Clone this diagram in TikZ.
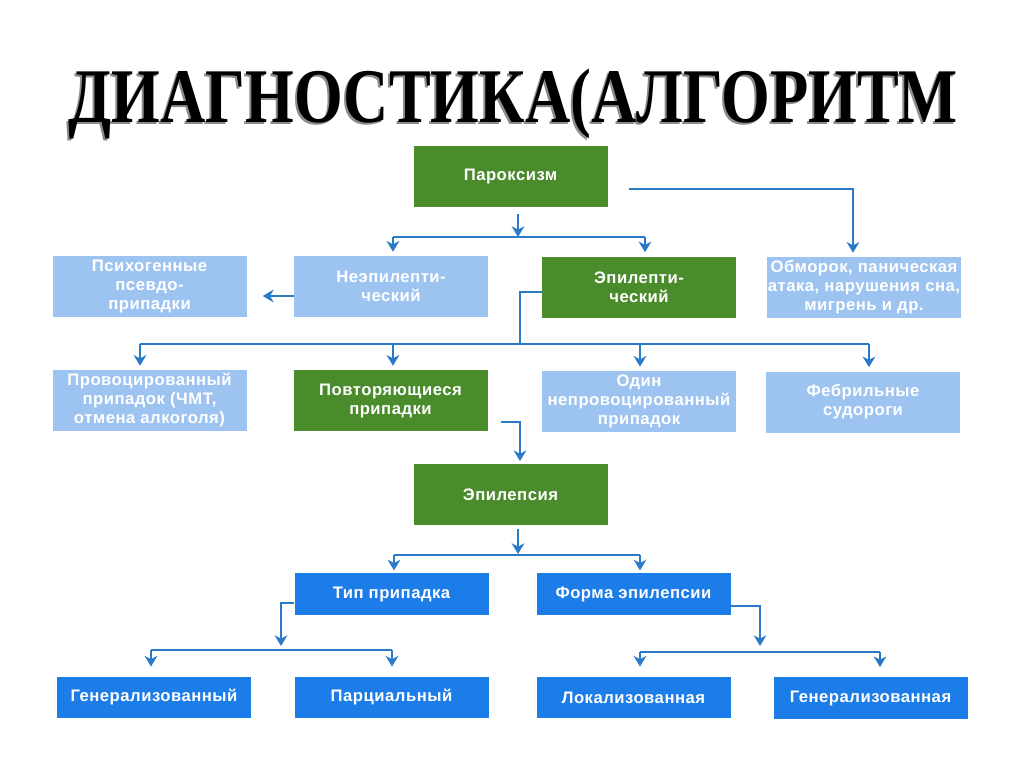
\documentclass[tikz,border=0pt]{standalone}
\usepackage{fontspec}
\setmainfont{Liberation Sans}
\newfontfamily\titlefont{Liberation Serif}
\newfontfamily\boxfont[LetterSpace=3]{Liberation Sans}
\usetikzlibrary{arrows.meta,calc}
\definecolor{grn}{RGB}{74,139,44}
\definecolor{lblue}{RGB}{157,195,241}
\definecolor{bblue}{RGB}{28,124,232}
\definecolor{arrc}{RGB}{42,122,200}
\newcommand\titletext{\scalebox{0.81}[1]{\titlefont\bfseries\fontsize{58}{58}\selectfont ДИАГНОСТИКА(АЛГОРИТМ}}
\begin{document}
\begin{tikzpicture}[x=0.75pt,y=-0.75pt,
 box/.style={minimum width=145.5pt,minimum height=45.75pt,inner sep=0pt,align=center,text=white,
   font=\boxfont\bfseries\fontsize{12.5}{14.25}\selectfont},
 gbox/.style={box,fill=grn},
 lbox/.style={box,fill=lblue},
 bbox/.style={box,fill=bblue,minimum height=31pt},
 conn/.style={draw=arrc,line width=1.4pt},
 arr/.style={conn,-{Stealth[length=8pt,width=9.5pt,inset=2.5pt]}},
]
\useasboundingbox (0,0) rectangle (1024,767);
\fill[white] (0,0) rectangle (1024,767);
% title
\node[text=black!45] (titleshadow) at (511,106) {\titletext};
\node (title) at (513,104) {\titletext};
% boxes
\node[gbox] (parox) at (510.5,176) {Пароксизм};
\node[lbox] (neep) at (391,286.5) {Неэпилепти-\\ческий};
\node[gbox] (ep) at (639,287) {Эпилепти-\\ческий};
\node[lbox] (psy) at (149.5,286.5) {Психогенные\\псевдо-\\припадки};
\node[lbox] (obm) at (864,287.5) {Обморок, паническая\\атака, нарушения сна,\\мигрень и др.};
\node[lbox] (prov) at (149.5,400.5) {Провоцированный\\припадок (ЧМТ,\\отмена алкоголя)};
\node[gbox] (povt) at (390.5,400.5) {Повторяющиеся\\припадки};
\node[lbox] (odin) at (639,401.5) {Один\\непровоцированный\\припадок};
\node[lbox] (febr) at (863,402) {Фебрильные\\судороги};
\node[gbox] (epil) at (510.5,494.5) {Эпилепсия};
\node[bbox] (tip) at (391.5,594) {Тип припадка};
\node[bbox] (forma) at (633.5,594) {Форма эпилепсии};
\node[bbox] (gen1) at (154,697.5) {Генерализованный};
\node[bbox] (parc) at (391.5,697.5) {Парциальный};
\node[bbox] (lok) at (633.5,697.5) {Локализованная};
\node[bbox] (gen2) at (870.5,698) {Генерализованная};
% connectors
\coordinate (p0) at ($(parox.south)+(7.5,7)$);
\coordinate (b1) at (518,237);
\draw[arr] (p0) -- (b1);
\draw[arr,shorten >=3pt] (393,237) -- ($(neep.north)+(2,0)$);
\draw[conn] (393,237) -- (645,237);
\draw[arr,shorten >=3pt] (645,237) -- ($(ep.north)+(6,0)$);
\draw[arr,shorten >=3pt] ($(parox.east)+(21,13)$) -| ($(obm.north)+(-11,0)$);
\draw[arr,shorten >=12pt] ($(neep.west)+(0,9.5)$) -- ($(psy.east)+(0,9.5)$);
\coordinate (j2) at (520,344);
\draw[conn] ($(ep.west)+(0,5)$) -| (j2);
\draw[conn] (140,344) -- (869,344);
\draw[arr,shorten >=3pt] (140,344) -- ($(prov.north)+(-9.5,0)$);
\draw[arr,shorten >=3pt] (393,344) -- ($(povt.north)+(2.5,0)$);
\draw[arr,shorten >=3pt] (640,344) -- ($(odin.north)+(1,0)$);
\draw[arr,shorten >=3pt] (869,344) -- ($(febr.north)+(6,0)$);
\draw[arr,shorten >=2pt] ($(povt.east)+(13,21.5)$) -| ($(epil.north)+(9.5,0)$);
\coordinate (e0) at ($(epil.south)+(7.5,4)$);
\coordinate (b3) at (518,554);
\draw[arr] (e0) -- (b3);
\draw[conn] (394,555) -- (640,555);
\draw[arr,shorten >=2pt] (394,555) -- ($(tip.north)+(2.5,0)$);
\draw[arr,shorten >=2pt] (640,555) -- ($(forma.north)+(6.5,0)$);
\coordinate (t1) at (281,646);
\draw[arr] ($(tip.west)+(0,9)$) -| (t1);
\draw[conn] (151,650) -- (392,650);
\draw[arr,shorten >=7.5pt] (151,650) -- ($(gen1.north)+(-3,0)$);
\draw[arr,shorten >=7.5pt] (392,650) -- ($(parc.north)+(0.5,0)$);
\coordinate (f1) at (760,646);
\draw[arr] ($(forma.east)+(0,12)$) -| (f1);
\draw[conn] (640,652) -- (880,652);
\draw[arr,shorten >=7.5pt] (640,652) -- ($(lok.north)+(6.5,0)$);
\draw[arr,shorten >=7.5pt] (880,652) -- ($(gen2.north)+(9.5,0)$);
\end{tikzpicture}
\end{document}
